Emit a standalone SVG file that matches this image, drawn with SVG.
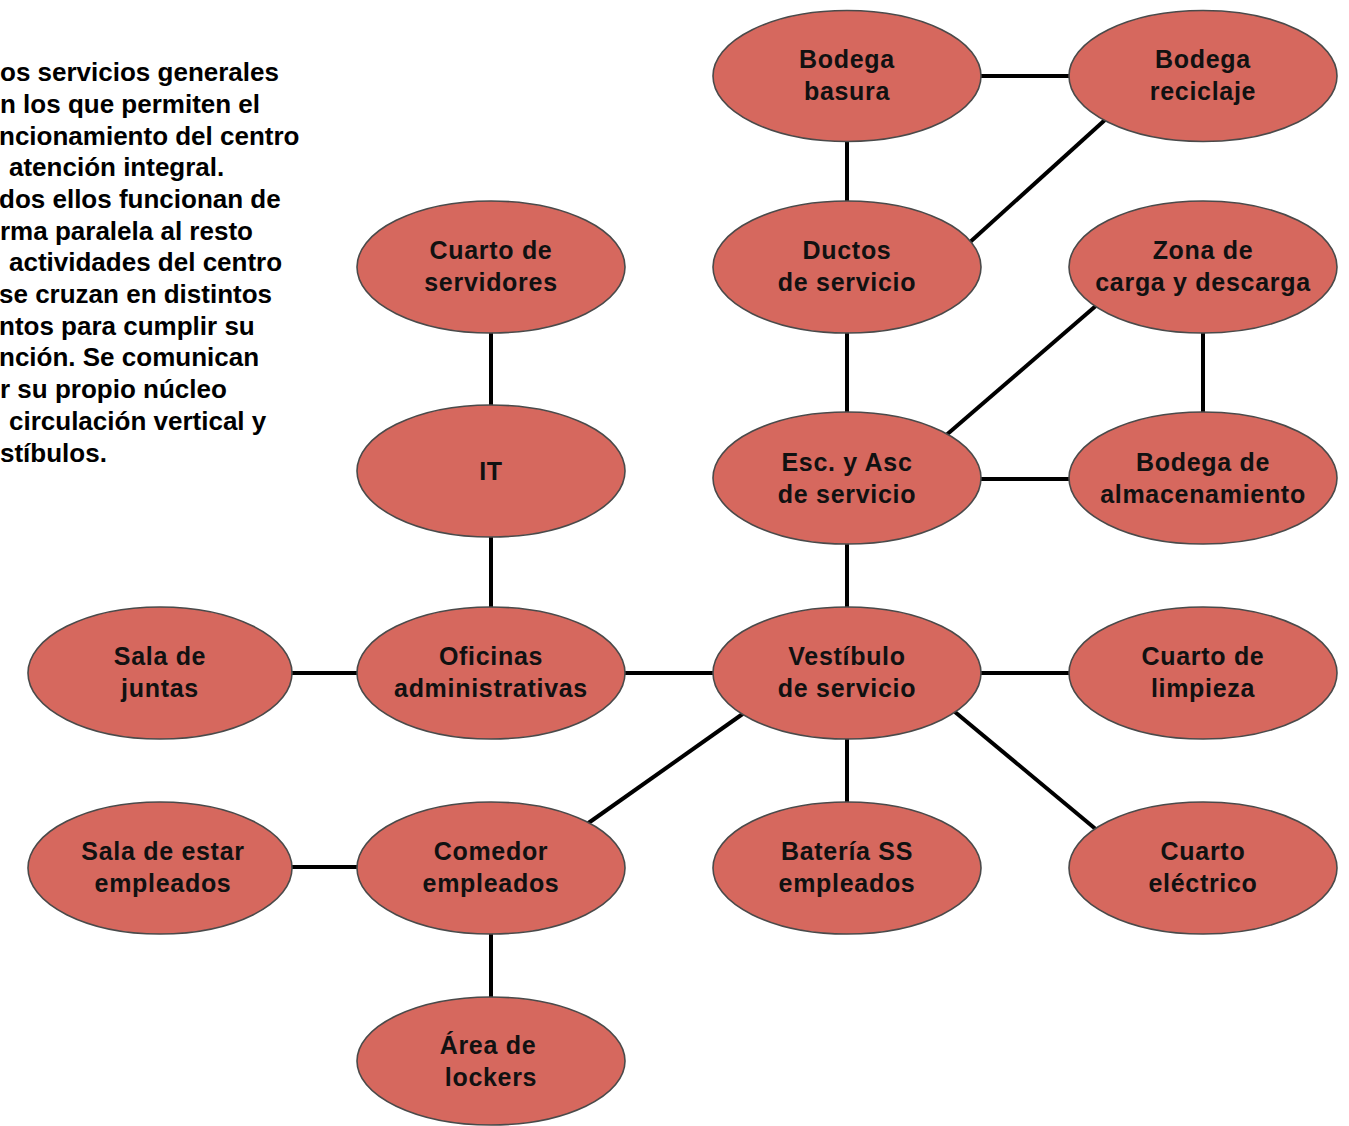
<svg xmlns="http://www.w3.org/2000/svg" width="1349" height="1126" viewBox="0 0 1349 1126">
<style>
.bg{fill:#ffffff}
.conn line{stroke:#000;stroke-width:4;stroke-linecap:butt}
.node ellipse{fill:#d6685e;stroke:#4a4a4a;stroke-width:1.6}
.node text{font-family:"Liberation Sans",Arial,sans-serif;font-size:25px;font-weight:bold;fill:#111;text-anchor:middle;letter-spacing:0.7px}
.note text{font-family:"Liberation Sans",Arial,sans-serif;font-size:26px;font-weight:bold;fill:#000}
</style>
<rect class="bg" x="0" y="0" width="1349" height="1126"/>
<g id="note" class="note">
<text x="0" y="81">os servicios generales</text>
<text x="0" y="113">n los que permiten el</text>
<text x="-1" y="145">ncionamiento del centro</text>
<text x="9" y="176">atención integral.</text>
<text x="-1" y="208">dos ellos funcionan de</text>
<text x="0" y="240">rma paralela al resto</text>
<text x="9" y="271">actividades del centro</text>
<text x="-1" y="303">se cruzan en distintos</text>
<text x="-1" y="335">ntos para cumplir su</text>
<text x="-1" y="366">nción. Se comunican</text>
<text x="0" y="398">r su propio núcleo</text>
<text x="9" y="430">circulación vertical y</text>
<text x="0" y="462">stíbulos.</text>
</g>
<g id="connectors" class="conn">
<line x1="975" y1="76" x2="1075" y2="76"/>
<line x1="847" y1="138" x2="847" y2="205"/>
<line x1="969" y1="243" x2="1106" y2="119"/>
<line x1="847" y1="330" x2="847" y2="417"/>
<line x1="944" y1="437" x2="1098" y2="304"/>
<line x1="1203" y1="328" x2="1203" y2="417"/>
<line x1="975" y1="479" x2="1075" y2="479"/>
<line x1="847" y1="540" x2="847" y2="612"/>
<line x1="491" y1="328" x2="491" y2="410"/>
<line x1="491" y1="533" x2="491" y2="612"/>
<line x1="286" y1="673" x2="363" y2="673"/>
<line x1="619" y1="673" x2="719" y2="673"/>
<line x1="975" y1="673" x2="1075" y2="673"/>
<line x1="744" y1="713" x2="587" y2="824"/>
<line x1="847" y1="735" x2="847" y2="807"/>
<line x1="955" y1="712" x2="1098" y2="831"/>
<line x1="286" y1="867" x2="363" y2="867"/>
<line x1="491" y1="929" x2="491" y2="1001"/>
</g>
<g id="bodega-basura" class="node"><ellipse cx="847" cy="76" rx="134" ry="65.5"/><text x="847" y="68">Bodega</text><text x="847" y="100">basura</text></g>
<g id="bodega-reciclaje" class="node"><ellipse cx="1203" cy="76" rx="134" ry="65.5"/><text x="1203" y="68">Bodega</text><text x="1203" y="100">reciclaje</text></g>
<g id="cuarto-servidores" class="node"><ellipse cx="491" cy="267" rx="134" ry="66"/><text x="491" y="259">Cuarto de</text><text x="491" y="291">servidores</text></g>
<g id="ductos" class="node"><ellipse cx="847" cy="267" rx="134" ry="66"/><text x="847" y="259">Ductos</text><text x="847" y="291">de servicio</text></g>
<g id="zona-carga" class="node"><ellipse cx="1203" cy="267" rx="134" ry="66"/><text x="1203" y="259">Zona de</text><text x="1203" y="291">carga y descarga</text></g>
<g id="it" class="node"><ellipse cx="491" cy="471" rx="134" ry="66"/><text x="491" y="480">IT</text></g>
<g id="esc-asc" class="node"><ellipse cx="847" cy="478" rx="134" ry="66"/><text x="847" y="471">Esc. y Asc</text><text x="847" y="503">de servicio</text></g>
<g id="bodega-almacenamiento" class="node"><ellipse cx="1203" cy="478" rx="134" ry="66"/><text x="1203" y="471">Bodega de</text><text x="1203" y="503">almacenamiento</text></g>
<g id="sala-juntas" class="node"><ellipse cx="160" cy="673" rx="132" ry="66"/><text x="160" y="665">Sala de</text><text x="160" y="697">juntas</text></g>
<g id="oficinas" class="node"><ellipse cx="491" cy="673" rx="134" ry="66"/><text x="491" y="665">Oficinas</text><text x="491" y="697">administrativas</text></g>
<g id="vestibulo" class="node"><ellipse cx="847" cy="673" rx="134" ry="66"/><text x="847" y="665">Vestíbulo</text><text x="847" y="697">de servicio</text></g>
<g id="cuarto-limpieza" class="node"><ellipse cx="1203" cy="673" rx="134" ry="66"/><text x="1203" y="665">Cuarto de</text><text x="1203" y="697">limpieza</text></g>
<g id="sala-estar" class="node"><ellipse cx="160" cy="868" rx="132" ry="66"/><text x="163" y="860">Sala de estar</text><text x="163" y="892">empleados</text></g>
<g id="comedor" class="node"><ellipse cx="491" cy="868" rx="134" ry="66"/><text x="491" y="860">Comedor</text><text x="491" y="892">empleados</text></g>
<g id="bateria-ss" class="node"><ellipse cx="847" cy="868" rx="134" ry="66"/><text x="847" y="860">Batería SS</text><text x="847" y="892">empleados</text></g>
<g id="cuarto-electrico" class="node"><ellipse cx="1203" cy="868" rx="134" ry="66"/><text x="1203" y="860">Cuarto</text><text x="1203" y="892">eléctrico</text></g>
<g id="area-lockers" class="node"><ellipse cx="491" cy="1061" rx="134" ry="64"/><text x="488" y="1054">Área de</text><text x="491" y="1086">lockers</text></g>
</svg>
